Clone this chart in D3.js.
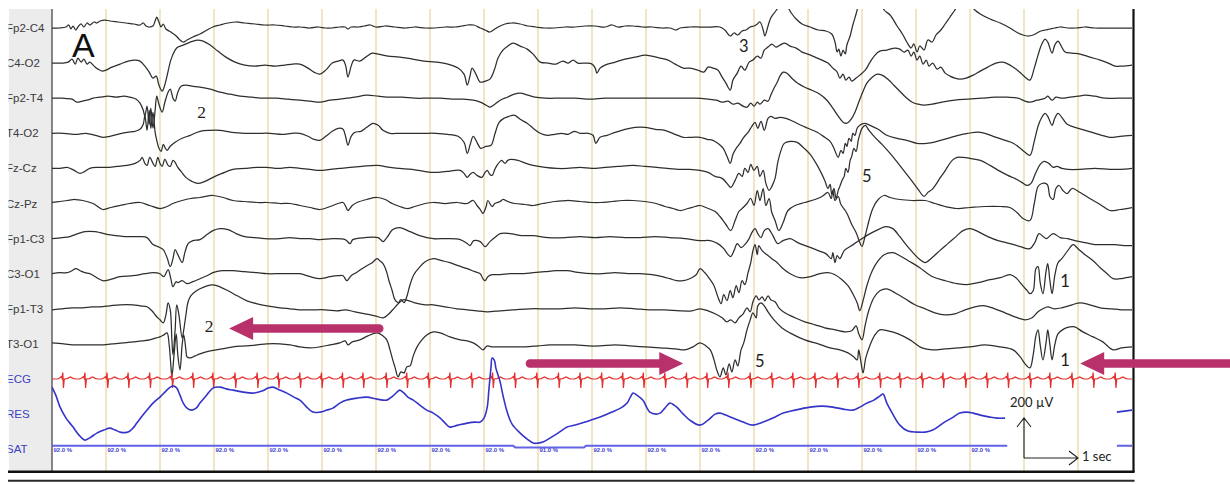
<!DOCTYPE html>
<html>
<head>
<meta charset="utf-8">
<script src="https://cdn.jsdelivr.net/npm/d3@7"></script>
<style>
html,body{margin:0;padding:0;background:#fff;}
svg{display:block;}
</style>
</head>
<body>
<svg id="chart" width="1230" height="484"></svg>
<script>
// Montage rows, top to bottom
const channelLabels = ["Fp2-C4","C4-O2","Fp2-T4","T4-O2","Fz-Cz","Cz-Pz","Fp1-C3","C3-O1","Fp1-T3","T3-O1","ECG","RES","SAT"];

// EEG traces: [time (s), amplitude (µV)], upward deflection positive
const fp2c4 = [[0,0],[0.15,0],[0.26,5],[0.31,15],[0.35,-5],[0.39,10],[0.44,-10],[0.48,5],[0.54,20],[0.59,5],[0.65,25],[0.70,15],[0.78,30],[0.83,25],[0.89,35],[0.98,40],[1.07,35],[1.22,30],[1.37,25],[1.52,20],[1.63,15],[1.69,25],[1.74,10],[1.81,5],[1.87,10],[1.91,35],[1.94,55],[1.98,30],[2.02,5],[2.06,20],[2.11,-5],[2.20,-20],[2.30,-40],[2.37,-60],[2.43,-70],[2.50,-60],[2.61,-45],[2.74,-30],[2.87,-10],[2.98,5],[3.11,15],[3.26,25],[3.41,30],[3.57,25],[3.76,20],[3.94,15],[4.13,15],[4.31,10],[4.46,5],[4.59,5],[4.78,0],[4.93,5],[5.06,0],[5.19,0],[5.33,5],[5.43,5],[5.48,-5],[5.54,5],[5.67,5],[5.78,10],[5.89,15],[6.00,5],[6.17,10],[6.35,5],[6.54,0],[6.72,5],[6.91,0],[7.09,0],[7.28,5],[7.46,5],[7.59,10],[7.70,15],[7.81,15],[7.93,0],[8.02,-10],[8.11,-20],[8.20,-5],[8.30,10],[8.39,20],[8.52,25],[8.67,20],[8.81,10],[8.96,5],[9.13,0],[9.31,0],[9.50,5],[9.69,5],[9.87,10],[10.06,10],[10.24,5],[10.37,15],[10.48,5],[10.61,10],[10.76,10],[10.93,5],[11.11,5],[11.30,0],[11.44,0],[11.56,-10],[11.63,0],[11.81,5],[12.00,5],[12.19,5],[12.37,5],[12.46,-10],[12.56,-40],[12.63,-25],[12.70,-35],[12.78,-15],[12.85,-10],[12.93,5],[13.00,10],[13.06,20],[13.11,30],[13.17,-10],[13.20,-40],[13.26,10],[13.31,50],[13.39,80],[13.46,105],[13.54,125],[13.61,110],[13.69,75],[13.78,45],[13.89,20],[14.04,5],[14.19,-10],[14.33,-15],[14.44,-30],[14.50,-70],[14.54,-120],[14.57,-105],[14.61,-140],[14.65,-110],[14.69,-130],[14.72,-85],[14.78,-40],[14.83,15],[14.89,70],[14.94,120],[15.00,165],[15.15,215],[15.33,140],[15.41,90],[15.52,65],[15.65,10],[15.76,-35],[15.83,-70],[15.91,-100],[15.96,-80],[16.02,-120],[16.07,-90],[16.15,-110],[16.22,-60],[16.30,-70],[16.37,-35],[16.46,-10],[16.54,20],[16.63,55],[16.72,90],[16.81,130],[16.91,150],[17.00,120],[17.09,90],[17.19,70],[17.37,45],[17.56,25],[17.74,0],[17.89,-25],[17.98,-35],[18.07,-40],[18.17,-35],[18.24,-25],[18.31,-15],[18.39,-10],[18.48,-5],[18.57,0],[18.67,5],[18.81,0],[18.96,0],[19.13,5],[19.31,0],[19.50,0],[19.69,0],[19.85,0],[20.0,0]];

const c4o2 = [[0,0],[0.19,0],[0.30,5],[0.37,20],[0.43,-5],[0.48,25],[0.54,5],[0.59,20],[0.65,-5],[0.70,5],[0.78,-15],[0.85,-30],[0.93,-40],[1.00,-35],[1.11,-20],[1.26,-5],[1.41,10],[1.54,15],[1.63,10],[1.72,-15],[1.80,-45],[1.87,-75],[1.93,-65],[1.98,-110],[2.04,-140],[2.07,-125],[2.13,-65],[2.20,15],[2.28,65],[2.33,80],[2.43,90],[2.56,105],[2.69,115],[2.80,110],[2.93,90],[3.07,60],[3.22,30],[3.39,5],[3.57,-10],[3.76,-15],[3.94,-10],[4.13,-15],[4.31,-10],[4.46,-5],[4.59,-5],[4.74,-25],[4.85,-45],[4.96,-55],[5.07,-35],[5.19,0],[5.30,10],[5.39,15],[5.44,-15],[5.48,-70],[5.54,-15],[5.59,15],[5.70,10],[5.81,30],[5.93,50],[6.04,45],[6.22,35],[6.44,30],[6.67,20],[6.89,10],[7.11,5],[7.33,-5],[7.52,-25],[7.63,-55],[7.69,-110],[7.74,-65],[7.78,-25],[7.85,-55],[7.93,-95],[8.02,-90],[8.11,-80],[8.19,-35],[8.26,25],[8.35,65],[8.44,85],[8.54,100],[8.67,85],[8.80,70],[8.91,45],[9.04,5],[9.19,0],[9.33,-5],[9.46,10],[9.56,0],[9.65,15],[9.74,0],[9.89,0],[10.00,-5],[10.06,-25],[10.09,-50],[10.15,-25],[10.24,-10],[10.43,5],[10.61,20],[10.80,30],[10.98,40],[11.11,35],[11.26,25],[11.41,15],[11.54,-5],[11.69,-25],[11.81,-25],[11.96,-35],[12.07,-45],[12.15,-20],[12.24,-25],[12.33,-35],[12.41,-70],[12.48,-100],[12.56,-135],[12.61,-85],[12.69,-50],[12.76,-15],[12.83,-35],[12.91,5],[12.98,15],[13.06,35],[13.13,25],[13.19,65],[13.26,80],[13.33,95],[13.41,80],[13.48,90],[13.57,100],[13.67,85],[13.78,75],[13.89,55],[14.00,45],[14.13,30],[14.26,15],[14.37,0],[14.46,-25],[14.54,-45],[14.59,-75],[14.65,-55],[14.70,-85],[14.76,-70],[14.81,-90],[14.89,-75],[14.96,-60],[15.06,-35],[15.15,5],[15.24,40],[15.33,60],[15.46,65],[15.61,75],[15.70,70],[15.78,55],[15.85,65],[15.91,35],[15.96,55],[16.02,15],[16.07,35],[16.13,-5],[16.19,15],[16.24,-15],[16.31,0],[16.39,-30],[16.46,-20],[16.54,-50],[16.63,-65],[16.72,-75],[16.81,-80],[16.93,-75],[17.06,-60],[17.19,-40],[17.33,-20],[17.48,0],[17.61,5],[17.74,-10],[17.85,-30],[17.96,-55],[18.04,-75],[18.11,-85],[18.19,-25],[18.26,40],[18.33,95],[18.39,120],[18.44,105],[18.52,50],[18.57,90],[18.63,110],[18.69,85],[18.76,55],[18.89,50],[19.04,45],[19.22,30],[19.41,15],[19.56,0],[19.69,-15],[19.81,-15],[20.0,-10]];

const fp2t4 = [[0,0],[0.19,0],[0.37,-5],[0.46,-20],[0.56,-15],[0.65,-10],[0.76,0],[0.89,5],[1.04,10],[1.19,5],[1.33,10],[1.44,5],[1.56,-5],[1.63,-25],[1.69,-60],[1.72,-90],[1.76,-40],[1.80,-130],[1.83,-50],[1.87,-150],[1.91,-60],[1.94,10],[1.98,-30],[2.04,-70],[2.09,-20],[2.15,30],[2.19,45],[2.24,0],[2.28,-15],[2.33,30],[2.39,60],[2.48,65],[2.59,60],[2.74,55],[2.93,45],[3.11,30],[3.30,20],[3.48,10],[3.70,5],[3.93,0],[4.15,0],[4.37,-5],[4.59,-10],[4.78,-15],[4.96,-20],[5.15,-10],[5.33,-5],[5.46,0],[5.61,5],[5.83,15],[6.04,10],[6.26,5],[6.48,5],[6.72,0],[6.96,0],[7.19,0],[7.41,-5],[7.61,-5],[7.80,-10],[7.93,-20],[8.04,-35],[8.11,-45],[8.20,-30],[8.30,-10],[8.43,5],[8.56,20],[8.67,25],[8.81,15],[8.94,5],[9.13,0],[9.41,0],[9.69,0],[9.96,-5],[10.24,0],[10.52,0],[10.80,0],[11.07,0],[11.35,0],[11.63,0],[11.91,0],[12.15,-5],[12.30,-10],[12.41,-20],[12.52,-15],[12.61,-30],[12.70,-25],[12.80,-40],[12.87,-45],[12.94,-25],[13.00,-40],[13.06,-20],[13.11,-30],[13.19,-10],[13.26,-15],[13.31,15],[13.37,50],[13.43,80],[13.48,110],[13.54,130],[13.61,125],[13.70,100],[13.81,75],[13.94,55],[14.07,40],[14.22,20],[14.35,-10],[14.46,-50],[14.56,-90],[14.65,-120],[14.72,-125],[14.80,-105],[14.87,-70],[14.94,-20],[15.02,35],[15.09,75],[15.19,105],[15.28,120],[15.37,115],[15.48,95],[15.59,65],[15.70,35],[15.81,5],[15.93,-20],[16.04,-30],[16.15,-35],[16.30,-30],[16.48,-20],[16.72,-10],[16.96,-5],[17.22,0],[17.46,5],[17.70,5],[17.89,0],[18.02,-15],[18.11,-20],[18.24,-10],[18.39,0],[18.44,10],[18.52,-10],[18.59,5],[18.70,0],[18.85,5],[19.00,10],[19.13,15],[19.31,10],[19.50,0],[19.74,0],[20.0,0]];

const t4o2 = [[0,0],[0.22,0],[0.44,-5],[0.63,0],[0.80,-10],[0.94,-20],[1.07,-15],[1.22,-5],[1.39,5],[1.54,10],[1.63,20],[1.69,45],[1.72,90],[1.76,15],[1.80,115],[1.83,25],[1.87,105],[1.91,5],[1.94,-35],[1.98,-75],[2.02,-90],[2.06,-55],[2.09,-70],[2.13,-85],[2.19,-65],[2.28,-45],[2.41,-25],[2.56,-10],[2.74,10],[2.93,15],[3.11,15],[3.33,5],[3.57,0],[3.81,0],[4.04,0],[4.26,-5],[4.44,0],[4.59,0],[4.74,-15],[4.85,-30],[4.96,-35],[5.07,-15],[5.19,10],[5.30,25],[5.39,20],[5.44,-20],[5.48,-60],[5.54,-15],[5.61,5],[5.72,10],[5.83,30],[5.94,50],[6.04,40],[6.13,15],[6.26,0],[6.44,0],[6.67,0],[6.89,0],[7.11,0],[7.33,-5],[7.52,-15],[7.63,-45],[7.69,-100],[7.74,-60],[7.80,-15],[7.87,-45],[7.94,-75],[8.04,-65],[8.13,-60],[8.20,-5],[8.28,55],[8.37,75],[8.46,85],[8.57,90],[8.67,70],[8.80,50],[8.91,25],[9.04,0],[9.17,-10],[9.31,-5],[9.44,0],[9.56,-5],[9.67,10],[9.78,0],[9.93,0],[10.02,-10],[10.07,-50],[10.15,-20],[10.28,-10],[10.43,5],[10.61,20],[10.80,30],[10.98,30],[11.17,20],[11.35,15],[11.54,-5],[11.69,-20],[11.85,-20],[12.00,-20],[12.13,-30],[12.24,-35],[12.33,-50],[12.43,-75],[12.50,-115],[12.56,-150],[12.61,-105],[12.67,-75],[12.74,-50],[12.81,-20],[12.89,5],[12.96,35],[13.02,55],[13.07,25],[13.13,60],[13.19,15],[13.26,75],[13.31,85],[13.39,75],[13.48,80],[13.59,75],[13.72,60],[13.87,40],[14.00,25],[14.17,5],[14.31,-20],[14.41,-40],[14.48,-75],[14.56,-120],[14.61,-85],[14.65,-100],[14.69,-50],[14.72,-65],[14.76,-25],[14.80,-40],[14.83,0],[14.87,-10],[14.91,25],[14.96,40],[15.04,50],[15.15,40],[15.30,20],[15.46,-10],[15.65,-25],[15.83,-35],[16.02,-50],[16.20,-50],[16.39,-40],[16.59,-25],[16.78,-10],[16.96,0],[17.19,5],[17.43,-15],[17.65,-35],[17.80,-50],[17.93,-75],[18.02,-95],[18.11,-110],[18.19,-40],[18.26,35],[18.33,80],[18.39,100],[18.44,85],[18.52,40],[18.57,75],[18.63,100],[18.70,80],[18.80,45],[18.89,35],[19.07,20],[19.26,5],[19.44,-10],[19.59,-20],[19.78,-15],[20.0,-10]];

const fzcz = [[0,0],[0.15,0],[0.28,5],[0.41,-10],[0.52,-25],[0.61,-15],[0.70,0],[0.85,5],[1.02,5],[1.20,10],[1.39,15],[1.54,25],[1.63,40],[1.67,55],[1.72,25],[1.76,15],[1.81,55],[1.87,25],[1.91,10],[1.96,55],[2.00,25],[2.04,10],[2.09,45],[2.15,15],[2.19,10],[2.24,40],[2.28,30],[2.33,5],[2.39,-15],[2.48,-45],[2.59,-65],[2.70,-75],[2.83,-65],[2.98,-45],[3.15,-25],[3.35,-5],[3.57,0],[3.80,5],[3.98,5],[4.19,0],[4.41,5],[4.59,0],[4.78,-5],[4.96,-10],[5.15,-5],[5.33,0],[5.52,5],[5.74,10],[6.02,15],[6.26,5],[6.44,0],[6.67,-5],[6.89,-15],[7.09,-20],[7.31,-15],[7.56,-10],[7.63,-25],[7.69,-45],[7.74,-30],[7.80,-20],[7.87,-35],[7.96,-45],[8.02,-20],[8.06,-10],[8.11,-30],[8.15,-35],[8.20,-5],[8.24,15],[8.30,35],[8.33,40],[8.39,25],[8.44,40],[8.50,45],[8.63,40],[8.78,25],[8.91,15],[9.13,5],[9.35,0],[9.54,0],[9.78,5],[10.00,0],[10.24,5],[10.48,10],[10.76,15],[10.98,10],[11.20,5],[11.39,0],[11.63,-5],[11.81,-5],[12.00,-10],[12.15,-20],[12.28,-40],[12.41,-50],[12.50,-75],[12.57,-95],[12.65,-60],[12.72,-25],[12.78,-40],[12.83,0],[12.89,-20],[12.94,20],[13.00,-10],[13.06,10],[13.11,-40],[13.17,-10],[13.22,-75],[13.28,-110],[13.33,-90],[13.39,-50],[13.44,30],[13.50,90],[13.56,125],[13.67,135],[13.80,130],[13.93,100],[14.04,70],[14.15,25],[14.24,-20],[14.31,-60],[14.37,-100],[14.41,-80],[14.44,-130],[14.48,-100],[14.52,-150],[14.56,-110],[14.59,-90],[14.63,-60],[14.67,-40],[14.70,0],[14.74,-20],[14.78,40],[14.81,60],[14.85,100],[14.89,85],[14.93,140],[14.96,170],[15.00,200],[15.06,215],[15.13,190],[15.24,155],[15.37,120],[15.52,75],[15.67,25],[15.80,-20],[15.93,-65],[16.04,-105],[16.15,-140],[16.22,-120],[16.30,-105],[16.37,-80],[16.44,-50],[16.52,-20],[16.59,10],[16.67,40],[16.76,55],[16.87,55],[17.00,50],[17.19,40],[17.37,15],[17.56,-15],[17.70,-35],[17.83,-50],[17.96,-70],[18.06,-85],[18.13,-75],[18.22,-20],[18.30,20],[18.37,35],[18.46,25],[18.54,5],[18.61,10],[18.70,0],[18.81,-5],[19.04,-5],[19.31,0],[19.59,-5],[19.78,-5],[20.0,0]];

const czpz = [[0,5],[0.15,10],[0.28,15],[0.43,20],[0.57,15],[0.76,0],[0.94,-30],[1.09,-20],[1.26,-10],[1.44,0],[1.63,5],[1.81,-10],[2.00,-25],[2.13,-15],[2.24,0],[2.41,15],[2.57,25],[2.74,30],[2.98,40],[3.17,30],[3.35,15],[3.57,10],[3.80,5],[3.98,5],[4.22,0],[4.41,0],[4.59,-10],[4.78,-20],[4.96,-30],[5.15,-15],[5.30,0],[5.39,5],[5.44,-15],[5.48,-35],[5.56,-10],[5.65,5],[5.83,20],[6.02,30],[6.17,20],[6.30,0],[6.44,-15],[6.57,-25],[6.72,-15],[6.91,0],[7.06,5],[7.28,0],[7.50,5],[7.69,0],[7.80,15],[7.87,-10],[7.93,-30],[7.98,-50],[8.04,-15],[8.07,15],[8.15,-15],[8.20,0],[8.30,10],[8.35,20],[8.44,10],[8.57,0],[8.76,-5],[8.91,-10],[9.09,0],[9.31,10],[9.54,15],[9.78,10],[10.00,5],[10.15,5],[10.37,10],[10.56,15],[10.76,15],[10.98,10],[11.19,0],[11.35,-15],[11.50,-25],[11.63,-35],[11.78,-25],[11.91,-15],[12.00,-10],[12.15,-25],[12.28,-40],[12.37,-65],[12.48,-105],[12.57,-135],[12.65,-85],[12.72,-40],[12.80,-20],[12.87,0],[12.94,25],[13.00,-10],[13.06,65],[13.11,15],[13.17,75],[13.22,-10],[13.28,25],[13.33,-45],[13.39,-85],[13.46,-135],[13.54,-95],[13.63,-35],[13.76,-10],[13.94,5],[14.13,20],[14.26,35],[14.37,55],[14.43,25],[14.46,65],[14.50,15],[14.56,35],[14.61,-5],[14.69,-35],[14.74,-60],[14.81,-105],[14.89,-145],[14.96,-195],[15.00,-215],[15.06,-160],[15.13,-85],[15.20,-25],[15.30,20],[15.41,40],[15.52,30],[15.70,20],[15.93,15],[16.17,15],[16.35,0],[16.54,-15],[16.76,-25],[17.00,-20],[17.28,-15],[17.56,-15],[17.74,-20],[17.87,-45],[17.98,-75],[18.11,-85],[18.19,0],[18.26,85],[18.33,100],[18.43,95],[18.48,35],[18.54,20],[18.59,75],[18.65,90],[18.72,65],[18.80,50],[18.89,75],[19.04,55],[19.22,25],[19.41,-5],[19.59,-35],[19.78,-30],[20.0,-20]];

const fp1c3 = [[0,0],[0.19,5],[0.33,10],[0.48,25],[0.61,35],[0.80,35],[0.89,30],[1.04,20],[1.19,15],[1.35,10],[1.50,10],[1.63,10],[1.76,5],[1.87,-30],[1.96,-40],[2.06,-55],[2.13,-95],[2.19,-140],[2.24,-100],[2.28,-55],[2.33,-80],[2.41,-120],[2.46,-70],[2.52,-25],[2.61,-10],[2.74,-5],[2.87,20],[2.98,40],[3.11,50],[3.26,45],[3.41,25],[3.57,10],[3.76,5],[3.94,0],[4.22,0],[4.40,5],[4.59,0],[4.78,0],[4.96,-5],[5.20,0],[5.43,-5],[5.52,-25],[5.57,-5],[5.80,5],[6.04,5],[6.13,-15],[6.20,5],[6.31,45],[6.44,55],[6.63,35],[6.81,15],[7.06,0],[7.31,0],[7.56,-5],[7.69,-25],[7.74,-35],[7.81,-10],[7.93,-15],[8.02,-40],[8.11,-15],[8.20,5],[8.30,25],[8.48,25],[8.70,15],[8.91,15],[9.19,5],[9.50,5],[9.78,10],[10.06,5],[10.33,10],[10.61,5],[10.89,5],[11.17,10],[11.44,5],[11.72,0],[12.00,-10],[12.19,-10],[12.33,-25],[12.44,-50],[12.52,-80],[12.57,-90],[12.63,-60],[12.69,-25],[12.76,-45],[12.83,-30],[12.91,0],[12.96,30],[13.02,50],[13.07,25],[13.13,5],[13.19,40],[13.26,50],[13.35,15],[13.44,-25],[13.54,-10],[13.67,0],[13.81,-20],[14.00,-40],[14.19,-60],[14.33,-75],[14.43,-100],[14.46,-70],[14.50,-120],[14.54,-85],[14.59,-100],[14.67,-60],[14.78,-40],[14.89,-20],[15.00,0],[15.15,25],[15.30,45],[15.44,60],[15.57,50],[15.70,10],[15.83,-35],[15.96,-75],[16.07,-105],[16.17,-120],[16.30,-95],[16.44,-60],[16.59,-25],[16.74,10],[16.87,40],[17.00,50],[17.15,35],[17.33,10],[17.52,-10],[17.74,-25],[17.93,-40],[18.11,-50],[18.20,-20],[18.28,25],[18.41,0],[18.54,25],[18.67,5],[18.81,0],[18.94,-10],[19.13,-20],[19.31,-30],[19.50,-30],[19.69,-30],[19.85,-35],[20.0,-35]];

const c3o1 = [[0,0],[0.15,5],[0.28,5],[0.37,15],[0.44,25],[0.52,15],[0.61,5],[0.70,0],[0.83,-20],[0.94,-35],[1.07,-30],[1.26,-15],[1.50,-10],[1.72,0],[1.87,5],[2.00,0],[2.07,-15],[2.15,20],[2.20,-25],[2.24,-65],[2.30,-40],[2.33,-45],[2.41,-35],[2.50,-50],[2.61,-40],[2.74,-25],[2.87,-10],[2.98,5],[3.15,15],[3.35,15],[3.57,10],[3.80,5],[3.98,0],[4.22,0],[4.41,0],[4.59,0],[4.78,-15],[4.96,-25],[5.15,-15],[5.30,-10],[5.39,-10],[5.46,-35],[5.54,-10],[5.63,5],[5.74,25],[5.83,40],[5.93,55],[6.02,75],[6.07,65],[6.13,50],[6.19,15],[6.24,-35],[6.30,-85],[6.35,-130],[6.41,-145],[6.46,-130],[6.52,-145],[6.57,-115],[6.63,-55],[6.70,-5],[6.80,30],[6.91,60],[7.06,75],[7.22,65],[7.37,55],[7.52,40],[7.69,25],[7.83,10],[7.93,0],[7.98,-25],[8.02,-35],[8.07,-15],[8.15,-5],[8.30,-5],[8.48,0],[8.67,0],[8.91,5],[9.13,10],[9.33,15],[9.54,15],[9.78,5],[10.00,0],[10.20,0],[10.43,5],[10.67,0],[10.89,0],[11.11,-5],[11.30,-15],[11.44,-25],[11.57,-35],[11.69,-35],[11.81,-25],[11.93,-5],[12.00,25],[12.09,5],[12.19,-30],[12.26,-60],[12.33,-115],[12.39,-150],[12.44,-105],[12.50,-135],[12.56,-85],[12.61,-120],[12.67,-60],[12.72,-95],[12.78,-35],[12.83,-55],[12.89,5],[12.94,55],[12.98,115],[13.02,145],[13.06,95],[13.09,140],[13.15,115],[13.24,95],[13.33,75],[13.43,55],[13.54,25],[13.67,0],[13.85,-20],[14.04,-15],[14.22,0],[14.37,5],[14.50,-5],[14.63,-30],[14.74,-60],[14.83,-100],[14.91,-145],[14.96,-185],[15.02,-135],[15.09,-60],[15.19,15],[15.30,65],[15.41,95],[15.57,105],[15.70,90],[15.89,60],[16.07,30],[16.31,-15],[16.54,-35],[16.76,-50],[16.94,-55],[17.15,-45],[17.37,-30],[17.56,-20],[17.74,-5],[17.85,-20],[17.96,-55],[18.06,-85],[18.11,-100],[18.17,-85],[18.22,25],[18.26,35],[18.30,-45],[18.35,-100],[18.41,15],[18.44,50],[18.48,-35],[18.52,-100],[18.57,-10],[18.63,55],[18.70,75],[18.81,115],[18.91,145],[19.00,125],[19.13,95],[19.28,65],[19.41,30],[19.54,0],[19.65,-25],[19.78,-25],[19.89,-20],[20.0,-15]];

const fp1t3 = [[0,-5],[0.19,0],[0.37,5],[0.57,5],[0.74,10],[0.89,10],[1.07,15],[1.26,20],[1.50,20],[1.63,15],[1.76,10],[1.85,-10],[1.94,-40],[2.00,-55],[2.06,-70],[2.11,-30],[2.15,30],[2.19,-5],[2.22,-155],[2.24,-230],[2.28,-105],[2.31,20],[2.35,-30],[2.41,-145],[2.44,-105],[2.48,-30],[2.52,35],[2.57,65],[2.65,85],[2.74,100],[2.87,115],[2.98,120],[3.11,110],[3.26,90],[3.43,65],[3.61,40],[3.80,25],[3.98,15],[4.22,5],[4.41,0],[4.59,-5],[4.81,-5],[5.06,-5],[5.28,-10],[5.43,-5],[5.61,-15],[5.80,-25],[5.98,-35],[6.13,-45],[6.22,-30],[6.31,-5],[6.41,25],[6.50,45],[6.61,40],[6.72,30],[6.91,20],[7.06,20],[7.28,10],[7.50,0],[7.69,-5],[7.87,-10],[8.06,-15],[8.30,-10],[8.57,-5],[8.85,0],[9.13,0],[9.41,0],[9.69,5],[9.96,0],[10.24,0],[10.52,5],[10.80,0],[11.07,-5],[11.35,-5],[11.63,-10],[11.85,-10],[12.00,0],[12.15,-10],[12.28,-25],[12.41,-45],[12.50,-65],[12.57,-55],[12.65,-70],[12.72,-45],[12.80,-25],[12.87,5],[12.93,-15],[12.98,35],[13.04,65],[13.09,45],[13.15,60],[13.20,40],[13.26,65],[13.31,45],[13.39,35],[13.46,5],[13.57,-20],[13.76,-45],[13.94,-65],[14.13,-80],[14.31,-95],[14.50,-105],[14.69,-115],[14.81,-110],[14.89,-85],[14.94,-125],[15.00,-155],[15.06,-80],[15.13,-5],[15.22,55],[15.33,90],[15.46,100],[15.61,80],[15.80,50],[15.98,20],[16.17,0],[16.35,-20],[16.54,-30],[16.72,-25],[16.91,-5],[17.09,10],[17.28,15],[17.46,0],[17.65,-20],[17.83,-40],[18.02,-55],[18.15,-45],[18.26,-15],[18.35,0],[18.44,10],[18.56,0],[18.70,5],[18.89,20],[19.04,30],[19.22,20],[19.41,5],[19.63,0],[19.81,-5],[20.0,-5]];

const t3o1 = [[0,5],[0.22,0],[0.44,-5],[0.67,-5],[0.89,-5],[1.11,0],[1.33,5],[1.50,10],[1.67,15],[1.81,20],[1.93,30],[2.00,35],[2.07,45],[2.13,55],[2.17,-5],[2.20,-105],[2.22,-165],[2.26,-55],[2.30,50],[2.33,-55],[2.37,-130],[2.41,-5],[2.44,45],[2.48,-30],[2.50,-65],[2.56,-70],[2.65,-60],[2.74,-50],[2.93,-35],[3.15,-25],[3.35,-15],[3.57,-10],[3.80,-5],[3.98,0],[4.22,0],[4.41,-5],[4.59,-15],[4.78,-20],[4.96,-15],[5.15,-5],[5.33,5],[5.43,15],[5.48,-5],[5.56,10],[5.70,20],[5.85,40],[6.02,55],[6.13,40],[6.20,20],[6.26,-30],[6.31,-80],[6.35,-115],[6.41,-165],[6.46,-140],[6.52,-145],[6.57,-115],[6.63,-110],[6.69,-60],[6.76,-15],[6.85,20],[6.94,45],[7.06,60],[7.19,55],[7.37,35],[7.56,20],[7.69,15],[7.80,5],[7.89,-10],[7.98,-30],[8.06,-10],[8.15,-15],[8.30,-15],[8.52,-15],[8.76,-15],[9.00,-10],[9.22,-5],[9.44,-5],[9.69,-5],[9.93,-10],[10.15,-10],[10.43,-5],[10.70,-10],[10.98,-15],[11.26,-20],[11.54,-25],[11.72,-30],[11.87,-15],[12.00,5],[12.11,-10],[12.19,-30],[12.26,-80],[12.31,-130],[12.37,-165],[12.43,-120],[12.48,-155],[12.54,-100],[12.59,-140],[12.65,-80],[12.70,-110],[12.76,-30],[12.81,5],[12.87,70],[12.93,120],[12.98,155],[13.04,130],[13.07,190],[13.13,205],[13.19,190],[13.26,160],[13.37,120],[13.52,80],[13.70,50],[13.94,20],[14.19,0],[14.41,-20],[14.59,-30],[14.74,-45],[14.85,-65],[14.91,-80],[14.94,-30],[14.98,-90],[15.02,-145],[15.07,-70],[15.15,-5],[15.24,45],[15.33,70],[15.48,65],[15.67,50],[15.89,20],[16.11,-20],[16.30,-30],[16.54,-25],[16.78,-20],[17.00,-15],[17.28,-5],[17.56,-15],[17.80,-30],[17.93,-65],[18.02,-100],[18.11,-120],[18.17,-55],[18.22,40],[18.26,70],[18.30,-5],[18.35,-80],[18.41,10],[18.44,70],[18.48,-5],[18.52,-80],[18.57,-5],[18.63,50],[18.74,75],[18.85,85],[18.94,85],[19.09,60],[19.28,35],[19.46,10],[19.65,-30],[19.81,-20],[20.0,-15]];

// ECG: R-peak times (s) and one averaged complex [offset s, µV]
const ecgBeats = [0.20,0.61,1.02,1.41,1.81,2.22,2.61,2.98,3.39,3.80,4.19,4.59,4.99,5.38,5.76,6.19,6.57,6.97,7.37,7.77,8.16,8.57,8.98,9.38,9.78,10.18,10.57,10.95,11.35,11.75,12.13,12.52,12.93,13.33,13.72,14.13,14.54,14.93,15.33,15.70,16.11,16.50,16.91,17.31,17.70,18.11,18.48,18.89,19.28,19.69];
const ecgComplex = [[-0.10,0],[-0.06,5],[-0.03,12],[-0.015,4],[0,32],[0.012,-45],[0.028,0],[0.08,2],[0.14,10],[0.19,3],[0.23,0]];

// Respiration effort [time s, a.u.]; null = signal dropout
const res = [[0,135],[0.07,95],[0.15,35],[0.26,-20],[0.39,-65],[0.50,-105],[0.61,-130],[0.72,-115],[0.83,-95],[0.96,-80],[1.07,-70],[1.17,-80],[1.26,-90],[1.41,-90],[1.50,-70],[1.57,-45],[1.67,-10],[1.76,20],[1.87,55],[2.00,85],[2.09,110],[2.19,135],[2.26,140],[2.31,130],[2.37,95],[2.43,55],[2.50,30],[2.59,20],[2.67,30],[2.74,55],[2.85,90],[2.98,130],[3.11,135],[3.24,125],[3.35,120],[3.54,110],[3.72,105],[3.89,115],[4.00,130],[4.09,135],[4.22,120],[4.35,105],[4.48,85],[4.59,70],[4.70,40],[4.83,10],[4.96,10],[5.09,20],[5.20,30],[5.33,55],[5.46,70],[5.65,80],[5.83,85],[6.02,75],[6.20,70],[6.31,90],[6.41,115],[6.44,120],[6.52,105],[6.59,85],[6.69,70],[6.81,45],[6.94,20],[7.06,5],[7.19,-20],[7.28,-45],[7.37,-65],[7.52,-55],[7.69,-45],[7.83,-40],[7.93,-40],[8.00,-20],[8.06,35],[8.09,120],[8.13,235],[8.15,280],[8.19,270],[8.22,230],[8.26,195],[8.30,160],[8.35,95],[8.43,10],[8.52,-50],[8.67,-95],[8.80,-125],[8.91,-145],[9.00,-145],[9.09,-140],[9.22,-120],[9.37,-95],[9.54,-65],[9.69,-55],[9.87,-40],[10.15,-15],[10.37,10],[10.56,35],[10.65,55],[10.72,90],[10.76,105],[10.83,95],[10.94,70],[11.02,30],[11.07,10],[11.19,0],[11.26,5],[11.35,30],[11.44,55],[11.52,45],[11.59,30],[11.69,0],[11.81,-30],[12.00,-55],[12.15,-30],[12.28,0],[12.37,5],[12.48,-5],[12.61,-20],[12.80,-40],[12.98,-55],[13.17,-40],[13.35,-20],[13.54,5],[13.76,20],[14.04,35],[14.26,40],[14.46,35],[14.65,25],[14.83,20],[14.96,35],[15.09,55],[15.22,70],[15.33,90],[15.39,100],[15.46,55],[15.56,5],[15.70,-55],[15.85,-85],[16.02,-90],[16.17,-90],[16.31,-80],[16.50,-45],[16.69,-15],[16.81,5],[16.94,10],[17.06,5],[17.19,-5],[17.37,-15],[17.50,-20],[17.65,-20],null,[19.72,10],[20.0,20]];

// SpO2 [time s, %]; null = dropout
const sat = [[0,92],[8.54,92],[8.58,91],[9.85,91],[9.89,92],[17.69,92],null,[19.72,92],[20.0,92]];
const satReadouts = [0,1,2,3,4,5,6,7,8,9,10,11,12,13,14,15,16,17];

const pageSeconds = 20;
const eegSeries = [fp2c4, c4o2, fp2t4, t4o2, fzcz, czpz, fp1c3, c3o1, fp1t3, t3o1];

// Event annotations (time, fractional montage row)
const eventMarks = [
  {label:"2", t:2.69, row:2.56, serif:true},
  {label:"2", t:2.83, row:8.66, serif:true},
  {label:"3", t:12.72, row:0.68},
  {label:"5", t:15.0, row:4.39},
  {label:"5", t:13.02, row:9.66},
  {label:"1", t:18.67, row:7.38},
  {label:"1", t:18.67, row:9.63}
];
const pointers = [
  {from:6.06, to:3.28, row:8.56},
  {from:8.85, to:11.69, row:9.56},
  {from:21.9, to:19.04, row:9.56}
];

// ---------- layout ----------
const svg = d3.select("#chart");
const W = 1230, H = 484;
const plotL = 52, plotT = 9, plotB = 471;
const x = d3.scaleLinear().domain([0, pageSeconds]).range([plotL, plotL + 54 * pageSeconds]);
const plotR = x(pageSeconds);
const row = d3.scaleLinear().domain([0, 12]).range([28, 28 + 35.1 * 12]);
const amp = d3.scaleLinear().domain([0, 200]).range([0, -40]); // 200 µV per 40 px

svg.append("rect").attr("width", W).attr("height", H).attr("fill", "#fff");

// label column
svg.append("rect").attr("x", 9).attr("y", plotT).attr("width", plotL - 9).attr("height", plotB - plotT).attr("fill", "#ececec");

// one-second grid
svg.append("g").selectAll("line").data(d3.range(1, pageSeconds)).join("line")
  .attr("x1", d => x(d)).attr("x2", d => x(d))
  .attr("y1", plotT).attr("y2", plotB)
  .attr("stroke", "#efe3bf").attr("stroke-width", 1.8);

svg.append("line").attr("x1", plotL).attr("x2", plotL).attr("y1", plotT).attr("y2", plotB)
  .attr("stroke", "#555").attr("stroke-width", 1.4);

const defs = svg.append("defs");
defs.append("clipPath").attr("id", "plotClip").append("rect")
  .attr("x", plotL).attr("y", plotT).attr("width", plotR - plotL).attr("height", plotB - plotT);
defs.append("clipPath").attr("id", "labelClip").append("rect")
  .attr("x", 8.5).attr("y", plotT).attr("width", plotL - 9).attr("height", plotB - plotT);

const plot = svg.append("g").attr("clip-path", "url(#plotClip)");

// EEG channels
eegSeries.forEach((series, i) => {
  const line = d3.line()
    .x(d => x(d[0]))
    .y(d => row(i) + amp(d[1]))
    .curve(d3.curveCatmullRom.alpha(0.5));
  plot.append("path").attr("d", line(series))
    .attr("fill", "none").attr("stroke", "#2e2e2e").attr("stroke-width", 1.25)
    .attr("stroke-linejoin", "round");
});

// ECG assembled from beat times and the averaged complex
const ecgPoints = [[0, 0]];
ecgBeats.forEach(b => ecgComplex.forEach(([dt, v]) => ecgPoints.push([b + dt, v])));
ecgPoints.push([pageSeconds, 0]);
plot.append("path")
  .attr("d", d3.line().x(d => x(d[0])).y(d => row(10) + amp(d[1]))(ecgPoints))
  .attr("fill", "none").attr("stroke", "#e3302c").attr("stroke-width", 1.2);

// Respiration
plot.append("path")
  .attr("d", d3.line().defined(d => d !== null).x(d => x(d[0])).y(d => row(11) + amp(d[1]))
    .curve(d3.curveCatmullRom.alpha(0.5))(res))
  .attr("fill", "none").attr("stroke", "#3434c8").attr("stroke-width", 1.6);

// Saturation
const satY = d3.scaleLinear().domain([91, 92]).range([row(12) - 1.6, row(12) - 3.5]);
plot.append("path")
  .attr("d", d3.line().defined(d => d !== null).x(d => x(d[0])).y(d => satY(d[1]))(sat))
  .attr("fill", "none").attr("stroke", "#6262e6").attr("stroke-width", 2);

const satDefined = sat.filter(d => d !== null);
const satAt = t => { let v = satDefined[0][1]; satDefined.forEach(d => { if (d[0] <= t) v = d[1]; }); return v; };
svg.append("g").selectAll("text").data(satReadouts).join("text")
  .attr("x", d => x(d) + 1.5).attr("y", row(12) + 3)
  .attr("font-family", "Liberation Sans, Arial, sans-serif").attr("font-size", 6)
  .attr("font-weight", "bold").attr("fill", "#4646d2")
  .text(d => d3.format(".1f")(satAt(d)) + " %");

// channel labels
svg.append("g").attr("clip-path", "url(#labelClip)").selectAll("text").data(channelLabels).join("text")
  .attr("x", 6).attr("y", (d, i) => row(i) + 4)
  .attr("font-family", "Liberation Sans, Arial, sans-serif").attr("font-size", 11.5)
  .attr("fill", (d, i) => i >= 10 ? "#4040c4" : "#3a3a3a")
  .text(d => d);

// frame
svg.append("line").attr("x1", plotR + 1.5).attr("x2", plotR + 1.5).attr("y1", plotT).attr("y2", plotB + 1)
  .attr("stroke", "#111").attr("stroke-width", 2.2);
svg.append("line").attr("x1", 8).attr("x2", plotR + 2.6).attr("y1", plotB + 0.8).attr("y2", plotB + 0.8)
  .attr("stroke", "#111").attr("stroke-width", 2.4);
svg.append("line").attr("x1", 8).attr("x2", plotR + 2.6).attr("y1", plotB + 9.8).attr("y2", plotB + 9.8)
  .attr("stroke", "#2a2a2a").attr("stroke-width", 2);

// panel letter
svg.append("text").attr("x", 72).attr("y", 57)
  .attr("font-family", "Liberation Sans, Arial, sans-serif").attr("font-size", 34)
  .attr("fill", "#111").text("A");

// event numbers
svg.append("g").selectAll("text").data(eventMarks).join("text")
  .attr("x", d => x(d.t)).attr("y", d => row(d.row))
  .attr("font-family", d => d.serif ? "Liberation Serif, Times New Roman, serif" : "Lato, Open Sans, sans-serif")
  .attr("font-size", d => d.serif ? 17.5 : 16.5)
  .attr("fill", "#1e1e1e").text(d => d.label);

// pointer arrows
const arrowColor = "#b8316b";
const pg = svg.append("g");
pointers.forEach(p => {
  const y = row(p.row);
  const dir = Math.sign(p.to - p.from);
  const tip = x(p.to), base = tip - dir * 24;
  pg.append("line").attr("x1", x(p.from)).attr("x2", base + dir * 1)
    .attr("y1", y).attr("y2", y)
    .attr("stroke", arrowColor).attr("stroke-width", 8.5).attr("stroke-linecap", "round");
  pg.append("path")
    .attr("d", `M${tip},${y}L${base},${y - 11.5}L${base},${y + 11.5}Z`)
    .attr("fill", arrowColor);
});

// calibration: 200 µV vertical, 1 s horizontal
const calT = 18, calY = 458;
const cx0 = x(calT), cx1 = x(calT + 1), cy1 = calY + amp(200);
const cal = svg.append("g").attr("fill", "none").attr("stroke", "#222").attr("stroke-width", 1.1);
cal.append("path").attr("d", `M${cx0},${calY}V${cy1}M${cx0 - 7},${cy1 + 9}L${cx0},${cy1}L${cx0 + 7},${cy1 + 9}`);
cal.append("path").attr("d", `M${cx0},${calY}H${cx1}M${cx1 - 9},${calY - 7}L${cx1},${calY}L${cx1 - 9},${calY + 7}`);
svg.append("text").attr("x", cx0 - 14).attr("y", cy1 - 11)
  .attr("font-family", "Lato, Open Sans, sans-serif").attr("font-size", 13).attr("fill", "#222")
  .text("200 µV");
svg.append("text").attr("x", cx1 + 4).attr("y", calY + 3)
  .attr("font-family", "Lato, Open Sans, sans-serif").attr("font-size", 13).attr("fill", "#222")
  .text("1 sec");
</script>
</body>
</html>
